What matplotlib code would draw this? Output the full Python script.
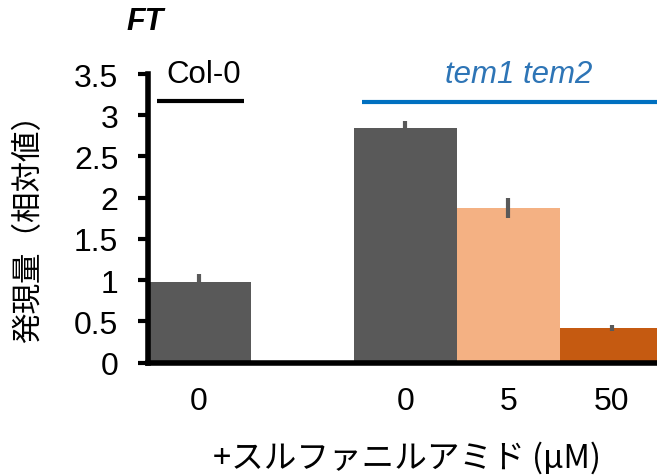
import matplotlib
matplotlib.use("Agg")
import matplotlib.pyplot as plt

# Data
positions = [0, 2, 3, 4]
tick_labels = ["0", "0", "5", "50"]
values = [0.98, 2.84, 1.87, 0.42]
errors = [0.09, 0.09, 0.12, 0.035]
colors = ["#595959", "#595959", "#F4B183", "#C55A11"]
y_ticks = [0, 0.5, 1, 1.5, 2, 2.5, 3, 3.5]
y_tick_labels = ["0", "0.5", "1", "1.5", "2", "2.5", "3", "3.5"]

W, H = 657, 477
fig = plt.figure(figsize=(W / 100, H / 100), dpi=100)
ax = fig.add_axes([147.5 / W, 1 - 363.5 / H, (W - 147.5) / W, (363.5 - 75) / H])

ax.bar(positions, values, width=1.0, color=colors, edgecolor="none", zorder=2)
ax.errorbar(positions, values, yerr=errors, fmt="none", ecolor="#595959",
            elinewidth=3, capsize=0, zorder=3)

ax.set_xlim(-0.5, 4.44)
ax.set_ylim(0, 3.5)
ax.set_yticks(y_ticks)
ax.set_yticklabels(y_tick_labels, family="Liberation Sans", fontsize=23)
ax.set_xticks(positions)
ax.set_xticklabels(tick_labels, family="Liberation Sans", fontsize=23)
ax.tick_params(axis="y", direction="out", length=7, width=3, pad=14)
ax.tick_params(axis="x", length=0, pad=17)

for s in ["top", "right"]:
    ax.spines[s].set_visible(False)
ax.spines["left"].set_linewidth(4)
ax.spines["bottom"].set_linewidth(4)

# Group annotations
ax.plot([-0.41, 0.44], [3.17, 3.17], color="black", lw=3, clip_on=False,
        solid_capstyle="butt")
ax.text(0.04, 3.5, "Col-0", ha="center", va="center", fontsize=22.5,
        family="Liberation Sans")
ax.plot([1.58, 4.44], [3.16, 3.16], color="#0070C0", lw=3, clip_on=False,
        solid_capstyle="butt")
ax.text(3.1, 3.5, "tem1 tem2", ha="center", va="center", fontsize=22.5,
        family="Liberation Sans", style="italic", color="#2E75B6")

fig.text(145 / W, 1 - 22 / H, "FT", ha="center", va="center", fontsize=22,
         family="Liberation Sans", style="italic", weight="bold")

fig.text(29 / W, 1 - 221 / H, "発現量（相対値）", rotation=90, ha="center",
         va="center", fontsize=22, family=["Noto Sans CJK JP", "DejaVu Sans"])
fig.text(407 / W, 1 - 458 / H, "+スルファニルアミド (μM)", ha="center",
         va="center", fontsize=23.5, family=["Noto Sans CJK JP", "DejaVu Sans"])

fig.savefig("out.png", dpi=100)
